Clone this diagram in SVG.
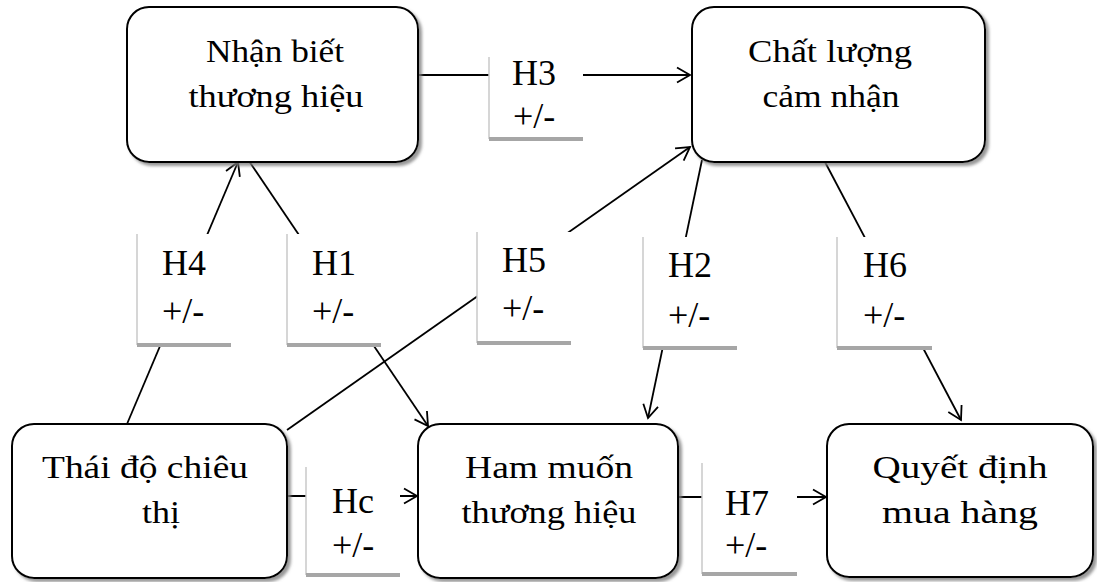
<svg xmlns="http://www.w3.org/2000/svg" width="1097" height="582" viewBox="0 0 1097 582">
  <style>
    .node rect { fill: #ffffff; stroke: #000000; stroke-width: 2; filter: url(#shadow); }
    .node text { font-family: "Liberation Serif", "Times New Roman", serif; font-size: 32px; fill: #000000; text-anchor: middle; }
    .label .bg { fill: #ffffff; }
    .label .edge { stroke: #c8c8c8; stroke-width: 1.5; }
    .label .base { stroke: #a6a6a6; stroke-width: 4; }
    .label text { font-family: "Liberation Serif", "Times New Roman", serif; font-size: 36px; fill: #000000; }
    .conn line { stroke: #000000; stroke-width: 1.8; fill: none; }
    .conn .arrow { marker-end: url(#arrow); }
  </style>
  <defs>
    <filter id="shadow" x="-10%" y="-10%" width="125%" height="125%">
      <feDropShadow dx="3" dy="3" stdDeviation="1.5" flood-color="#7f7f7f" flood-opacity="0.8"/>
    </filter>
    <marker id="arrow" markerUnits="userSpaceOnUse" markerWidth="20" markerHeight="20" viewBox="-16 -10 20 20" refX="0" refY="0" orient="auto">
      <path d="M-13,-7.5 L0,0 L-13,7.5" fill="none" stroke="#000000" stroke-width="1.8"/>
    </marker>
  </defs>

  <rect width="1097" height="582" fill="#ffffff"/>

  <!-- connectors -->
  <g id="connectors" class="conn">
    <line class="arrow" x1="418" y1="75" x2="690" y2="75"/>
    <line class="arrow" x1="127" y1="424" x2="238" y2="162"/>
    <line class="arrow" x1="249" y1="161" x2="428" y2="426"/>
    <line class="arrow" x1="287" y1="430" x2="690" y2="147"/>
    <line class="arrow" x1="702" y1="160" x2="648" y2="418"/>
    <line class="arrow" x1="825" y1="162" x2="961" y2="420"/>
    <line class="arrow" x1="287" y1="496" x2="417" y2="496"/>
    <line class="arrow" x1="678" y1="497" x2="826" y2="497"/>
  </g>

  <!-- relationship labels -->
  <g id="label-h3" class="label">
    <rect class="bg" x="489" y="57" width="94" height="82"/>
    <line class="edge" x1="489" y1="57" x2="489" y2="139"/>
    <line class="base" x1="489" y1="139" x2="583" y2="139"/>
    <text x="512" y="85">H3</text>
    <text x="513" y="128">+/-</text>
  </g>
  <g id="label-h4" class="label">
    <rect class="bg" x="137" y="234" width="94" height="111"/>
    <line class="edge" x1="137" y1="234" x2="137" y2="345"/>
    <line class="base" x1="137" y1="345" x2="231" y2="345"/>
    <text x="162" y="275">H4</text>
    <text x="162" y="323">+/-</text>
  </g>
  <g id="label-h1" class="label">
    <rect class="bg" x="287" y="234" width="94" height="111"/>
    <line class="edge" x1="287" y1="234" x2="287" y2="345"/>
    <line class="base" x1="287" y1="345" x2="381" y2="345"/>
    <text x="312" y="275">H1</text>
    <text x="312" y="323">+/-</text>
  </g>
  <g id="label-h5" class="label">
    <rect class="bg" x="477" y="232" width="94" height="111"/>
    <line class="edge" x1="477" y1="232" x2="477" y2="343"/>
    <line class="base" x1="477" y1="343" x2="571" y2="343"/>
    <text x="502" y="272">H5</text>
    <text x="502" y="320">+/-</text>
  </g>
  <g id="label-h2" class="label">
    <rect class="bg" x="643" y="237" width="94" height="111"/>
    <line class="edge" x1="643" y1="237" x2="643" y2="348"/>
    <line class="base" x1="643" y1="348" x2="737" y2="348"/>
    <text x="668" y="277">H2</text>
    <text x="668" y="327">+/-</text>
  </g>
  <g id="label-h6" class="label">
    <rect class="bg" x="837" y="237" width="95" height="111"/>
    <line class="edge" x1="837" y1="237" x2="837" y2="348"/>
    <line class="base" x1="837" y1="348" x2="932" y2="348"/>
    <text x="863" y="277">H6</text>
    <text x="863" y="327">+/-</text>
  </g>
  <g id="label-hc" class="label">
    <rect class="bg" x="306" y="467" width="94" height="108"/>
    <line class="edge" x1="306" y1="467" x2="306" y2="575"/>
    <line class="base" x1="306" y1="575" x2="400" y2="575"/>
    <text x="332" y="513">Hc</text>
    <text x="332" y="557">+/-</text>
  </g>
  <g id="label-h7" class="label">
    <rect class="bg" x="702" y="463" width="95" height="111"/>
    <line class="edge" x1="702" y1="463" x2="702" y2="574"/>
    <line class="base" x1="702" y1="574" x2="797" y2="574"/>
    <text x="725" y="515">H7</text>
    <text x="725" y="557">+/-</text>
  </g>

  <!-- nodes -->
  <g id="node-nhan-biet" class="node">
    <rect x="127" y="7" width="291" height="155" rx="22"/>
    <text x="275" y="62" textLength="138" lengthAdjust="spacingAndGlyphs">Nhận biết</text>
    <text x="276" y="107" textLength="175" lengthAdjust="spacingAndGlyphs">thương hiệu</text>
  </g>
  <g id="node-chat-luong" class="node">
    <rect x="692" y="7" width="293" height="155" rx="22"/>
    <text x="830" y="62" textLength="164" lengthAdjust="spacingAndGlyphs">Chất lượng</text>
    <text x="831" y="107" textLength="137" lengthAdjust="spacingAndGlyphs">cảm nhận</text>
  </g>
  <g id="node-thai-do" class="node">
    <rect x="12" y="424" width="275" height="154" rx="22"/>
    <text x="145" y="478" textLength="206" lengthAdjust="spacingAndGlyphs">Thái độ chiêu</text>
    <text x="161" y="523" textLength="38" lengthAdjust="spacingAndGlyphs">thị</text>
  </g>
  <g id="node-ham-muon" class="node">
    <rect x="418" y="424" width="260" height="154" rx="22"/>
    <text x="549" y="478" textLength="168" lengthAdjust="spacingAndGlyphs">Ham muốn</text>
    <text x="549" y="523" textLength="175" lengthAdjust="spacingAndGlyphs">thương hiệu</text>
  </g>
  <g id="node-quyet-dinh" class="node">
    <rect x="827" y="424" width="266" height="153" rx="22"/>
    <text x="960" y="478" textLength="175" lengthAdjust="spacingAndGlyphs">Quyết định</text>
    <text x="960" y="523" textLength="156" lengthAdjust="spacingAndGlyphs">mua hàng</text>
  </g>
</svg>
